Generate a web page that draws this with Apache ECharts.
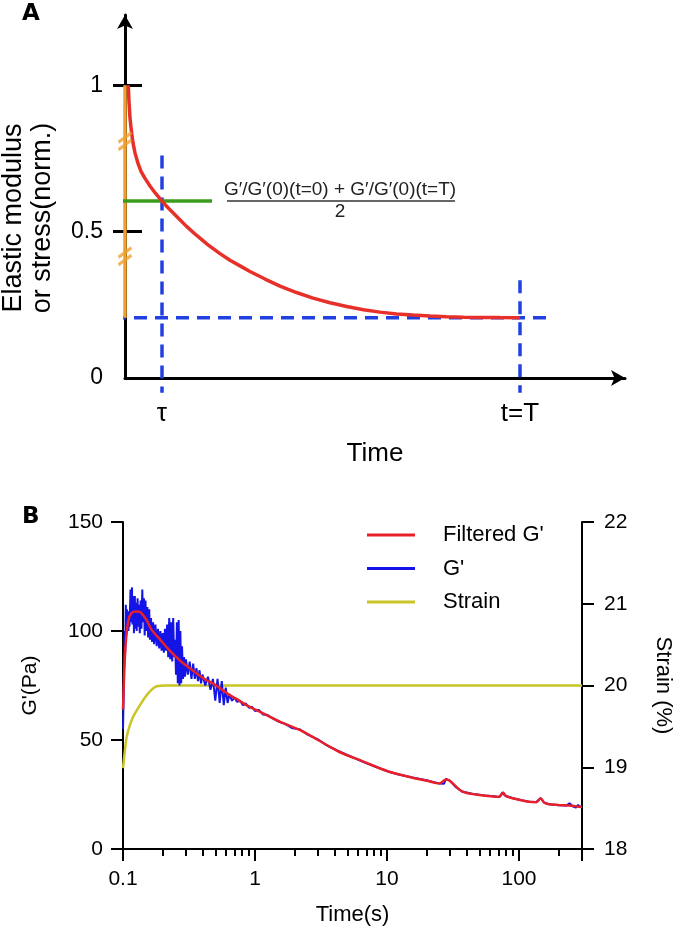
<!DOCTYPE html>
<html><head><meta charset="utf-8">
<script src="https://cdn.jsdelivr.net/npm/echarts@6/dist/echarts.min.js"></script>
<style>html,body{margin:0;padding:0;background:#fff}#c{width:677px;height:933px}</style>
</head><body><div id="c"></div>
<script>
// ---------- Panel A (schematic, normalised units) ----------
const aYTickValues = [0.5, 1];
const aYLabelValues = [0, 0.5, 1];
const aXLabelValues = [7.4, 79];
const aXLabelTexts = ['τ', 't=T'];
const aDecay = [[0.66,1.0],[0.8,0.943],[1.0,0.888],[1.3,0.840],[1.6,0.803],[2.0,0.769],[2.6,0.733],[3.2,0.706],[4.0,0.682],[5.0,0.656],[6.0,0.633],[7.34,0.605],[8.8,0.578],[10.34,0.552],[12.3,0.518],[14.34,0.487],[16.6,0.455],[19,0.425],[21,0.402],[23,0.383],[25,0.364],[28,0.338],[31,0.314],[34.3,0.292],[37.6,0.273],[41,0.257],[44.34,0.244],[47.7,0.233],[51,0.225],[54.3,0.219],[57.6,0.215],[61,0.2115],[64.34,0.209],[67.7,0.2078],[71,0.207],[75,0.2063],[79,0.206]];
const aHalfLine = [[-2.4, 0.605],[17.4, 0.605]];
const aBaseLine = [[-2.4, 0.206],[85.4, 0.206]];
const aTauLine = [[7.4, 0.76],[7.4, -0.05]];
const aEndLine = [[79, 0.334],[79, -0.05]];
const aStressLine = [[0, 1],[0, 0.206]];
const aBreaks = [[0, 0.809],[0, 0.416]];

// ---------- Panel B (measured) ----------
const bXLabelValues = [0.1, 1, 10, 100];
const bXMajorTicks = [0.1, 1, 10, 100, 300];
const bXMinorTicks = [0.2,0.3,0.4,0.5,0.6,0.7,0.8,0.9,2,3,4,5,6,7,8,9,20,30,40,50,60,70,80,90,200];
const gRaw = [[0.1,55],[0.1015,75],[0.103,100],[0.104,90],[0.105,112],[0.106,98],[0.107,110],[0.108,101],[0.109,109],[0.110,100],[0.111,108],[0.112,102],[0.114,119],[0.115,104],[0.117,120],[0.118,103],[0.120,116],[0.121,99],[0.123,116],[0.124,101],[0.126,113],[0.127,100],[0.129,115],[0.130,102],[0.132,112],[0.134,99],[0.136,114],[0.138,101],[0.140,119],[0.142,104],[0.144,115],[0.146,98],[0.148,114],[0.150,100],[0.153,111],[0.155,97],[0.158,110],[0.160,96],[0.163,106],[0.166,95],[0.169,104],[0.172,94],[0.176,103],[0.180,93],[0.184,101],[0.188,92],[0.192,100],[0.196,91],[0.200,99],[0.204,90],[0.208,101],[0.212,91],[0.216,103],[0.220,88],[0.224,106],[0.228,87],[0.232,104],[0.236,86],[0.240,106],[0.244,88],[0.248,96],[0.252,80],[0.256,104],[0.260,76],[0.264,105],[0.268,75],[0.272,100],[0.276,76],[0.280,93],[0.285,78],[0.290,88],[0.295,79],[0.300,87],[0.31,80],[0.32,86],[0.33,78],[0.34,85],[0.35,78],[0.36,83],[0.37,77],[0.38,82],[0.39,76],[0.40,80],[0.42,75],[0.44,79],[0.46,73],[0.48,78],[0.50,68],[0.52,78],[0.54,67],[0.56,77],[0.58,66],[0.60,74],[0.62,67],[0.64,71],[0.67,68],[0.70,69.5],[0.73,67.5],[0.77,68],[0.81,66],[0.85,66.8],[0.9,64.8],[0.95,65.2],[1.0,63.3],[1.07,63.8],[1.15,61.7],[1.25,61.5],[1.35,60],[1.5,58.5],[1.7,57.3],[1.9,55.5],[2.2,54.8],[2.5,52.5],[3.0,50.3],[3.5,47.5],[4.2,45.2],[5,43.2],[6,41],[7,39.3],[8.5,37.4],[10,35.8],[12,34.3],[15.6,32.8],[20,31.5],[25,30.0],[27,29.9],[28,32.2],[30,31.4],[33,28.5],[37,26.4],[45,25.2],[55,24.6],[65,24.2],[71,23.8],[75,26.0],[78,24.6],[90,23.3],[105,22.4],[119,21.7],[135,21.6],[146,23.4],[155,21.2],[170,20.5],[200,20.1],[230,20.0],[241,21.0],[255,19.6],[270,19.0],[280,20.2],[290,19.5],[300,19.4]];
const gFiltered = [[0.1,64],[0.102,80],[0.105,95],[0.11,105],[0.116,108.2],[0.125,109],[0.134,108.8],[0.142,107.3],[0.151,105],[0.165,100.5],[0.19,96.3],[0.226,91],[0.27,86.5],[0.336,82],[0.425,77.5],[0.48,76],[0.565,73],[0.644,70.6],[0.717,69],[0.86,66],[1.0,64],[1.15,62.2],[1.54,58.4],[2.18,54.6],[3.0,50],[3.67,47],[4.36,44.5],[6.5,40.3],[10,35.8],[15.6,32.7],[20,31.3],[25,30.1],[28,31.9],[30,31.2],[37.3,26.3],[50,24.8],[70.8,24],[75.9,25.8],[80,24.1],[100,22.6],[119,21.7],[135,21.5],[146,23.2],[155,21.3],[169,20.5],[200,20.2],[239,19.9],[260,19.7],[284,19.4],[300,19.3]];
const strain = [[0.1,18.99],[0.1033,19.2],[0.1066,19.37],[0.112,19.5],[0.1196,19.62],[0.1344,19.76],[0.151,19.88],[0.165,19.95],[0.18,19.99],[0.214,20],[300,20]];

const FONT = 'Liberation Sans';
const BLACK = '#000';
const chart = echarts.init(document.getElementById('c'), null, {renderer: 'canvas'});

function lineSeries(name, data, color, width, xi, yi, extra) {
  return Object.assign({
    name, type: 'line', data, xAxisIndex: xi, yAxisIndex: yi,
    symbol: 'none', showSymbol: false, clip: false, silent: true,
    lineStyle: {color, width, type: 'solid'}, itemStyle: {color},
    emphasis: {disabled: true}, animation: false
  }, extra || {});
}

const blueDash = {color: '#2040e0', width: 3.5, type: [13, 8]};

chart.setOption({
  animation: false,
  backgroundColor: '#fff',
  textStyle: {fontFamily: FONT, color: BLACK},
  grid: [
    {left: 125, top: 15, width: 500, height: 363, outerBoundsMode: 'none'},
    {left: 123, top: 522, width: 459, height: 327, outerBoundsMode: 'none'}
  ],
  legend: {
    data: ["Filtered G'", "G'", 'Strain'],
    orient: 'vertical', left: 362, top: 517,
    itemWidth: 48, itemHeight: 3, itemGap: 7.5, icon: 'rect',
    selectedMode: false,
    textStyle: {fontFamily: FONT, fontSize: 22, color: BLACK, lineHeight: 26, padding: [0, 0, 0, 23]}
  },
  xAxis: [
    { // A time
      gridIndex: 0, type: 'value', min: 0, max: 100,
      axisLine: {show: true, onZero: false, lineStyle: {color: BLACK, width: 3}, symbol: ['none', 'arrow'], symbolSize: [12, 14]},
      axisTick: {show: false},
      axisLabel: {customValues: aXLabelValues, formatter: v => aXLabelTexts[aXLabelValues.indexOf(v)] || '', fontSize: 26, margin: 23, color: BLACK, fontFamily: FONT},
      splitLine: {show: false},
      name: 'Time', nameLocation: 'middle', nameGap: 63,
      nameTextStyle: {fontSize: 26, color: BLACK, fontFamily: FONT}
    },
    { // B time (log)
      gridIndex: 1, type: 'log', logBase: 10, min: 0.1, max: 300, position: 'bottom',
      axisLine: {show: true, onZero: false, lineStyle: {color: BLACK, width: 2}},
      axisTick: {show: true, customValues: bXMajorTicks, length: 12, lineStyle: {color: BLACK, width: 2}},
      axisLabel: {customValues: bXLabelValues, formatter: v => String(parseFloat(Number(v).toPrecision(6))), fontSize: 21, margin: 20, color: BLACK, fontFamily: FONT},
      splitLine: {show: false}, minorTick: {show: false},
      name: 'Time(s)', nameLocation: 'middle', nameGap: 55,
      nameTextStyle: {fontSize: 22, color: BLACK, fontFamily: FONT}
    },
    { // B minor ticks
      gridIndex: 1, type: 'log', logBase: 10, min: 0.1, max: 300, position: 'bottom', offset: 0,
      axisLine: {show: false},
      axisTick: {show: true, customValues: bXMinorTicks, length: 7, lineStyle: {color: BLACK, width: 2}},
      axisLabel: {show: false}, splitLine: {show: false}
    }
  ],
  yAxis: [
    { // A value
      gridIndex: 0, type: 'value', min: 0, max: 1.24,
      axisLine: {show: true, onZero: false, lineStyle: {color: BLACK, width: 3}, symbol: ['none', 'arrow'], symbolSize: [12, 14]},
      axisTick: {show: true, customValues: aYTickValues, length: 12, lineStyle: {color: BLACK, width: 3}},
      axisLabel: {customValues: aYLabelValues, fontSize: 23, margin: 22, color: BLACK, fontFamily: FONT},
      splitLine: {show: false}
    },
    { // A inner tick halves
      gridIndex: 0, type: 'value', min: 0, max: 1.24, position: 'left',
      axisLine: {show: false},
      axisTick: {show: true, inside: true, customValues: aYTickValues, length: 17, lineStyle: {color: BLACK, width: 3}},
      axisLabel: {show: false}, splitLine: {show: false}
    },
    { // B G'
      gridIndex: 1, type: 'value', min: 0, max: 150, interval: 50,
      axisLine: {show: true, onZero: false, lineStyle: {color: BLACK, width: 2}},
      axisTick: {show: true, length: 12, lineStyle: {color: BLACK, width: 2}},
      axisLabel: {fontSize: 21, margin: 20, color: BLACK, fontFamily: FONT},
      splitLine: {show: false},
      name: "G'(Pa)", nameLocation: 'middle', nameGap: 82,
      nameTextStyle: {fontSize: 21, color: BLACK, fontFamily: FONT}
    },
    { // B strain
      gridIndex: 1, type: 'value', min: 18, max: 22, interval: 1, position: 'right',
      axisLine: {show: true, onZero: false, lineStyle: {color: BLACK, width: 2}},
      axisTick: {show: true, length: 12, lineStyle: {color: BLACK, width: 2}},
      axisLabel: {fontSize: 21, margin: 22, color: BLACK, fontFamily: FONT},
      splitLine: {show: false},
      name: 'Strain (%)', nameLocation: 'middle', nameGap: 70, nameRotate: -90,
      nameTextStyle: {fontSize: 22, color: BLACK, fontFamily: FONT}
    }
  ],
  series: [
    lineSeries('baseline', aBaseLine, '#2040e0', 3.5, 0, 0, {lineStyle: blueDash, z: 3}),
    lineSeries('tau', aTauLine, '#2040e0', 3.5, 0, 0, {lineStyle: blueDash, z: 3}),
    lineSeries('end', aEndLine, '#2040e0', 3.5, 0, 0, {lineStyle: blueDash, z: 3}),
    lineSeries('stress', aStressLine, '#f0a030', 3.5, 0, 0, {z: 4}),
    lineSeries('half', aHalfLine, '#3a9c1e', 3.5, 0, 0, {z: 4}),
    lineSeries('decay', aDecay, '#e8302a', 3.5, 0, 0, {z: 5}),
    {
      name: 'breaks', type: 'scatter', xAxisIndex: 0, yAxisIndex: 0, data: aBreaks, silent: true,
      symbol: 'path://M0,9 L12,0 M0,16 L12,7', symbolSize: [13, 17], clip: false, z: 6,
      itemStyle: {color: 'none', borderColor: '#f0a030', borderWidth: 3}
    },
    lineSeries('Strain', strain, '#c9c526', 2.5, 1, 3, {smooth: 0.3, z: 2}),
    lineSeries("G'", gRaw, '#1414e6', 2, 1, 2, {z: 3}),
    lineSeries("Filtered G'", gFiltered, '#e8202a', 2.5, 1, 2, {smooth: 0.3, z: 4})
  ],
  graphic: [
    {type: 'text', left: 22, top: 3, style: {text: 'A', fontSize: 23, fontWeight: 'bold', fontFamily: 'DejaVu Sans', fill: BLACK}},
    {type: 'text', left: 22, top: 506, style: {text: 'B', fontSize: 23, fontWeight: 'bold', fontFamily: 'DejaVu Sans', fill: BLACK}},
    {type: 'text', x: 28, y: 218, rotation: Math.PI / 2,
      style: {text: 'Elastic modulus\nor stress(norm.)', fontSize: 27, lineHeight: 29, fontFamily: FONT, fill: BLACK, align: 'center', verticalAlign: 'middle'}},
    {type: 'text', x: 340, y: 190, style: {text: 'G′/G′(0)(t=0) + G′/G′(0)(t=T)', fontSize: 19, fontFamily: FONT, fill: '#222', align: 'center', verticalAlign: 'middle'}},
    {type: 'line', shape: {x1: 227, y1: 201, x2: 455, y2: 201}, style: {stroke: '#333', lineWidth: 1.5}},
    {type: 'text', x: 340, y: 212, style: {text: '2', fontSize: 19, fontFamily: FONT, fill: '#222', align: 'center', verticalAlign: 'middle'}}
  ]
});
</script>
</body></html>
